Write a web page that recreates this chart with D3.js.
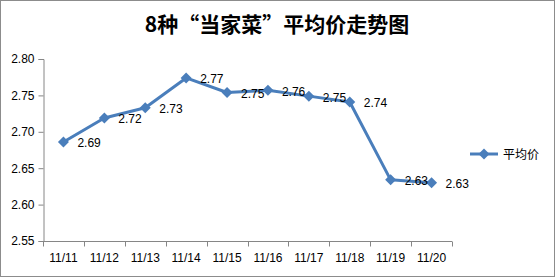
<!DOCTYPE html>
<html>
<head>
<meta charset="utf-8">
<script src="https://cdn.jsdelivr.net/npm/d3@7"></script>
<style>
  body { margin: 0; background: #fff; }
  svg { display: block; }
</style>
</head>
<body>
<div id="content"></div>
<script>
var dates = ["11/11", "11/12", "11/13", "11/14", "11/15", "11/16", "11/17", "11/18", "11/19", "11/20"];
var prices = [2.686, 2.719, 2.733, 2.774, 2.754, 2.757, 2.749, 2.741, 2.634, 2.630];
var yTicks = [2.55, 2.60, 2.65, 2.70, 2.75, 2.80];
var seriesName = "平均价";
var title = "8种“当家菜”平均价走势图";

function main() {
	var width = 555, height = 277;
	var svg = d3.select("#content").append("svg")
		.attr("width", width)
		.attr("height", height);

	// outer border
	svg.append("rect")
		.attr("x", 0.5).attr("y", 0.5)
		.attr("width", width - 1).attr("height", height - 1)
		.attr("fill", "#fff")
		.attr("stroke", "#8c8c8c");

	svg.append("text")
		.attr("x", 277).attr("y", 32)
		.attr("text-anchor", "middle")
		.attr("font-family", "'Noto Sans CJK SC', sans-serif")
		.attr("font-weight", "bold")
		.attr("font-size", 21)
		.text(title);

	var x = d3.scaleBand().domain(dates).range([43, 452]);
	var y = d3.scaleLinear().domain([2.55, 2.80]).range([241, 59]);
	var font = "'Liberation Sans', Arial, sans-serif";

	// y axis
	var yAxis = svg.append("g")
		.attr("transform", "translate(43.5,0)")
		.call(d3.axisLeft(y).tickValues(yTicks).tickFormat(d3.format(".2f")).tickSize(5).tickPadding(4));
	yAxis.selectAll("path, line").attr("stroke", "#868686");
	yAxis.selectAll("text").attr("font-family", font).attr("font-size", 12).attr("fill", "#000");

	// x axis with ticks at band edges
	var xg = svg.append("g").attr("transform", "translate(0,241.5)");
	xg.append("line").attr("x1", 43).attr("x2", 452).attr("stroke", "#868686");
	var edges = dates.map(function (d) { return x(d); }).concat([x.range()[1]]);
	xg.selectAll(".tk").data(edges).enter().append("line")
		.attr("x1", function (d) { return Math.round(d) + 0.5; })
		.attr("x2", function (d) { return Math.round(d) + 0.5; })
		.attr("y1", 0).attr("y2", 5)
		.attr("stroke", "#868686");
	xg.selectAll(".lb").data(dates).enter().append("text")
		.attr("x", function (d) { return x(d) + x.bandwidth() / 2; })
		.attr("y", 20.5)
		.attr("text-anchor", "middle")
		.attr("font-family", font).attr("font-size", 12)
		.text(function (d) { return d; });

	var color = "#4a7ebb";
	var cx = function (d, i) { return x(dates[i]) + x.bandwidth() / 2; };
	var line = d3.line().x(cx).y(function (d) { return y(d); });

	svg.append("path")
		.datum(prices)
		.attr("d", line)
		.attr("fill", "none")
		.attr("stroke", color)
		.attr("stroke-width", 3)
		.attr("stroke-linejoin", "round");

	var diamond = "M0,-5.5L5.5,0L0,5.5L-5.5,0Z";
	svg.selectAll(".pt").data(prices).enter().append("path")
		.attr("d", diamond)
		.attr("transform", function (d, i) { return "translate(" + cx(d, i) + "," + y(d) + ")"; })
		.attr("fill", color);

	svg.selectAll(".vl").data(prices).enter().append("text")
		.attr("x", function (d, i) { return cx(d, i) + 14; })
		.attr("y", function (d) { return y(d) + 5.5; })
		.attr("font-family", font).attr("font-size", 12)
		.text(function (d) { return d3.format(".2f")(d); });

	// legend
	var lg = svg.append("g").attr("transform", "translate(470,154)");
	lg.append("line").attr("x1", 0).attr("x2", 28).attr("stroke", color).attr("stroke-width", 3);
	lg.append("path").attr("d", diamond).attr("transform", "translate(14,0)").attr("fill", color);
	lg.append("text")
		.attr("x", 33).attr("y", 4.5)
		.attr("font-family", "'Noto Sans CJK SC', sans-serif")
		.attr("font-size", 12)
		.text(seriesName);
}

main();
</script>
</body>
</html>
